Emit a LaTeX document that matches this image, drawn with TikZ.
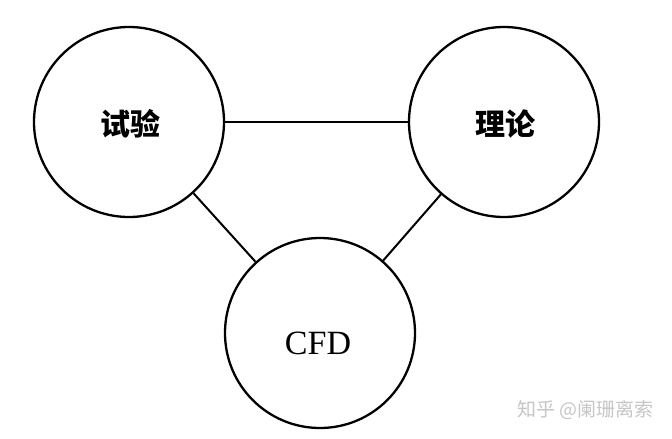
\documentclass[tikz,border=0pt]{standalone}
\usepackage{fontspec}
\setmainfont{Liberation Serif}
\newfontfamily\cjk{Noto Sans CJK SC}
\begin{document}
\begin{tikzpicture}[x=1pt,y=-1pt,
  circ/.style={circle,draw=black,line width=2.3pt,minimum size=190pt,inner sep=0pt},
  link/.style={draw=black,line width=2pt},
  cjklabel/.style={font=\cjk\bfseries\fontsize{30}{32}\selectfont},
  latlabel/.style={font=\fontsize{34}{36}\selectfont}]
\useasboundingbox[fill=white] (0,0) rectangle (672,439);
\node[circ] (shiyan) at (129,122) {};
\node[circ] (lilun) at (504,122) {};
\node[circ] (cfd) at (320,333) {};
\node[cjklabel] (t1) at (130,124) {试验};
\node[cjklabel] (t2) at (505,124) {理论};
\node[latlabel] (t3) at (318,343) {CFD};
\draw[link] (shiyan) -- (lilun);
\draw[link] (shiyan) -- (cfd);
\draw[link] (lilun) -- (cfd);
\node[font=\cjk\fontsize{19}{21}\selectfont,text=gray!45,anchor=east] (wm) at (657,410) {知乎 @阑珊离索};
\end{tikzpicture}
\end{document}
